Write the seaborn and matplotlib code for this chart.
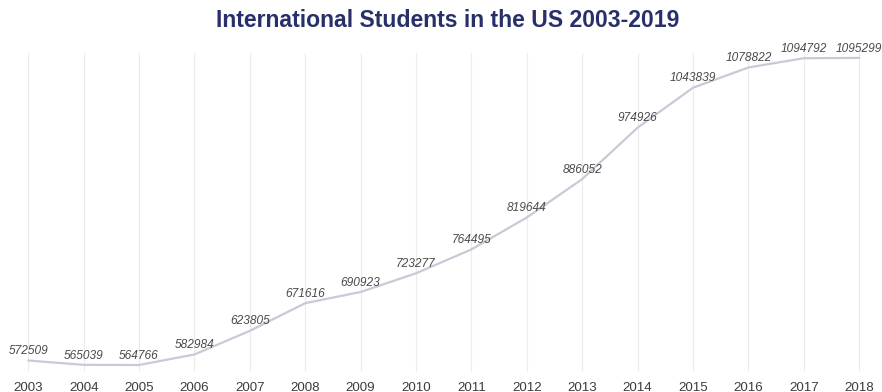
import matplotlib
matplotlib.use("Agg")
import matplotlib.pyplot as plt
import seaborn as sns
import pandas as pd

years = [2003, 2004, 2005, 2006, 2007, 2008, 2009, 2010, 2011, 2012,
         2013, 2014, 2015, 2016, 2017, 2018]
students = [572509, 565039, 564766, 582984, 623805, 671616, 690923, 723277,
            764495, 819644, 886052, 974926, 1043839, 1078822, 1094792, 1095299]
title = "International Students in the US 2003-2019"

df = pd.DataFrame({"year": years, "students": students})

sns.set_theme(style="white")
plt.rcParams["font.family"] = ["Liberation Sans", "DejaVu Sans"]

fig = plt.figure(figsize=(8.82, 3.92), dpi=100)
ax = fig.add_axes([0.0, 0.051, 1.0, 0.814])

sns.lineplot(data=df, x="year", y="students", ax=ax, color="#c9c9d8",
             linewidth=1.6, zorder=3)

for yr, val in zip(years, students):
    ax.annotate(str(val), (yr, val), xytext=(0, 2.4), textcoords="offset points",
                ha="center", va="bottom", fontsize=8.6, style="italic",
                color="#4a4a4a", zorder=4)

ax.set_xlim(2002.49, 2018.41)
ax.set_ylim(552670, 1103923)
ax.set_xticks(years)
ax.set_xticklabels([str(y) for y in years], fontsize=9.6, color="#3c3c3c")
ax.set_yticks([])
ax.set_xlabel("")
ax.set_ylabel("")
ax.tick_params(axis="x", length=0, pad=7)
ax.grid(axis="x", color="#ececec", linewidth=0.8)
ax.grid(axis="y", visible=False)
for s in ax.spines.values():
    s.set_visible(False)

fig.text(0.508, 0.947, title, ha="center", va="center", fontsize=16.6,
         fontweight="bold", color="#27306a")

fig.savefig("out.png", dpi=100)
